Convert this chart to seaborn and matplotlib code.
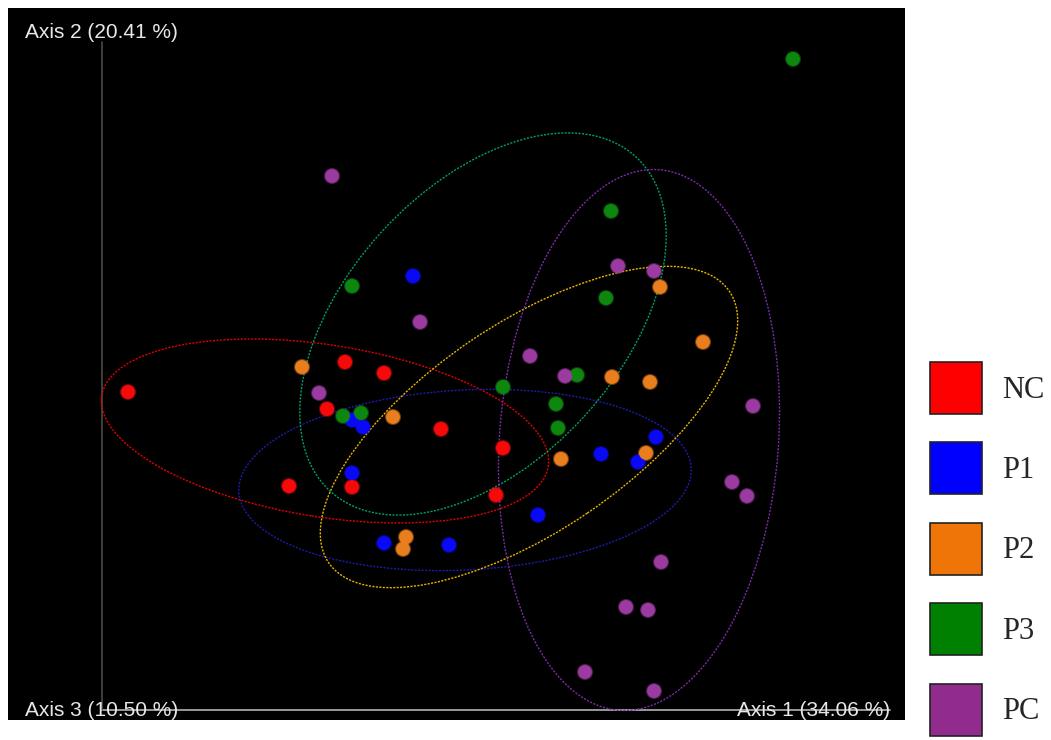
import numpy as np
import pandas as pd
import seaborn as sns
import matplotlib.pyplot as plt
from matplotlib.patches import Ellipse, Patch

# PCoA scores (Axis 1, Axis 2) per group
groups = ["NC", "P1", "P2", "P3", "PC"]

nc_x = [0.026, 0.243, 0.282, 0.225, 0.339, 0.401, 0.187, 0.250, 0.394]
nc_y = [0.318, 0.348, 0.337, 0.301, 0.281, 0.262, 0.224, 0.223, 0.215]

p1_x = [0.311, 0.250, 0.261, 0.250, 0.282, 0.347, 0.436, 0.499, 0.536, 0.554]
p1_y = [0.434, 0.290, 0.283, 0.237, 0.167, 0.165, 0.195, 0.256, 0.248, 0.273]

p2_x = [0.200, 0.291, 0.304, 0.301, 0.459, 0.510, 0.548, 0.558, 0.601, 0.544]
p2_y = [0.343, 0.293, 0.173, 0.161, 0.251, 0.333, 0.328, 0.423, 0.368, 0.257]

p3_x = [0.691, 0.509, 0.504, 0.250, 0.241, 0.259, 0.401, 0.475, 0.454, 0.456]
p3_y = [0.651, 0.499, 0.412, 0.424, 0.294, 0.297, 0.323, 0.335, 0.306, 0.282]

pc_x = [0.230, 0.318, 0.217, 0.516, 0.552, 0.428, 0.463, 0.651, 0.630, 0.645,
        0.559, 0.524, 0.546, 0.483, 0.552]
pc_y = [0.534, 0.388, 0.317, 0.444, 0.439, 0.354, 0.334, 0.304, 0.228, 0.214,
        0.148, 0.103, 0.100, 0.038, 0.019]

# confidence ellipses: centre x, centre y, width, height, angle (deg)
ell_cx = [0.223, 0.363, 0.427, 0.381, 0.537]
ell_cy = [0.279, 0.230, 0.283, 0.386, 0.270]
ell_w = [0.452, 0.453, 0.484, 0.453, 0.542]
ell_h = [0.172, 0.180, 0.208, 0.274, 0.279]
ell_angle = [-9.0, 3.0, 34.1, 47.6, 85.8]

axis_labels = ["Axis 1 (34.06 %)", "Axis 2 (20.41 %)", "Axis 3 (10.50 %)"]

point_colors = {"NC": "#ff0a0a", "P1": "#0a0aff", "P2": "#f0821e",
                "P3": "#0e8c0e", "PC": "#a03ca5"}
ellipse_colors = ["#e00000", "#1c1ca8", "#e8b400", "#00a060", "#7a2ca8"]
legend_colors = ["#ff0000", "#0000ff", "#f07508", "#008000", "#922b8e"]

xs = [nc_x, p1_x, p2_x, p3_x, pc_x]
ys = [nc_y, p1_y, p2_y, p3_y, pc_y]
df = pd.concat([pd.DataFrame({"axis1": x, "axis2": y, "group": g})
                for g, x, y in zip(groups, xs, ys)], ignore_index=True)

sns.set_style("white")
plt.rcParams["font.family"] = ["Liberation Sans", "DejaVu Sans"]

fig = plt.figure(figsize=(10.51, 7.40), dpi=100)
ax = fig.add_axes([8 / 1051, 20 / 740, 897 / 1051, 712 / 740])
ax.set_facecolor("black")

# ellipses
for i, g in enumerate(groups):
    ax.add_patch(Ellipse((ell_cx[i], ell_cy[i]), ell_w[i], ell_h[i], angle=ell_angle[i],
                         fill=False, edgecolor=ellipse_colors[i], lw=1.0,
                         ls=(0, (1.5, 1.0)), zorder=2))

# soft halo + points
sns.scatterplot(data=df, x="axis1", y="axis2", hue="group", palette=point_colors,
                s=135, alpha=0.45, linewidth=0, legend=False, ax=ax, zorder=3)
sns.scatterplot(data=df, x="axis1", y="axis2", hue="group", palette=point_colors,
                s=100, alpha=0.95, linewidth=0, legend=False, ax=ax, zorder=4)

# axis lines
ax.plot([0, 0.788], [0, 0], color="#b4b4b4", lw=1.2, zorder=1)
ax.plot([0, 0], [0, 0.668], color="#4a4a4a", lw=1.2, zorder=1)

ax.set_xlim(-0.094, 0.803)
ax.set_ylim(-0.010, 0.702)
ax.set_xticks([])
ax.set_yticks([])
ax.set_xlabel("")
ax.set_ylabel("")
for sp in ax.spines.values():
    sp.set_visible(False)

txt = dict(color="#e8e8e8", fontsize=15, transform=ax.transAxes, zorder=5)
ax.text(0.019, 0.965, axis_labels[1], ha="left", va="center", **txt)
ax.text(0.019, 0.014, axis_labels[2], ha="left", va="center", **txt)
ax.text(0.983, 0.014, axis_labels[0], ha="right", va="center", **txt)

handles = [Patch(facecolor=c, edgecolor="#222222", linewidth=1.2, label=g)
           for g, c in zip(groups, legend_colors)]
fig.legend(handles=handles, loc="upper left", bbox_to_anchor=(930 / 1051, 1 - 362 / 740),
           frameon=False, prop=dict(family="Liberation Serif", size=22),
           handlelength=1.7, handleheight=2.24, handletextpad=0.65,
           labelspacing=0.93, borderpad=0, borderaxespad=0)

fig.savefig("out.png", dpi=100, facecolor="white")
